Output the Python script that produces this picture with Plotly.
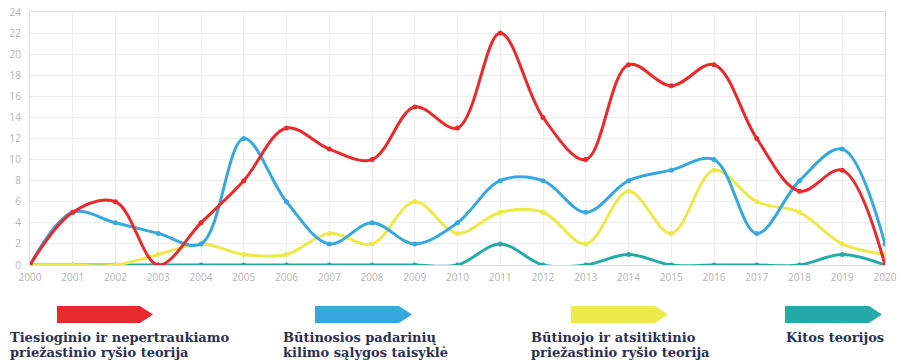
import plotly.graph_objects as go

years = list(range(2000, 2021))
tiesioginio = [0, 5, 6, 0, 4, 8, 13, 11, 10, 15, 13, 22, 14, 10, 19, 17, 19, 12, 7, 9, 0]
butinosios = [0, 5, 4, 3, 2, 12, 6, 2, 4, 2, 4, 8, 8, 5, 8, 9, 10, 3, 8, 11, 2]
butinojo = [0, 0, 0, 1, 2, 1, 1, 3, 2, 6, 3, 5, 5, 2, 7, 3, 9, 6, 5, 2, 1]
kitos = [0, 0, 0, 0, 0, 0, 0, 0, 0, 0, 0, 2, 0, 0, 1, 0, 0, 0, 0, 1, 0]

legend_labels = [
    ["Tiesioginio ir nepertraukiamo", "priežastinio ryšio teorija"],
    ["Būtinosios padarinių", "kilimo sąlygos taisyklė"],
    ["Būtinojo ir atsitiktinio", "priežastinio ryšio teorija"],
    ["Kitos teorijos"],
]
colors = ["#e9292b", "#36a8dd", "#ece94a", "#25a9a9"]
y_ticks = list(range(0, 25, 2))

W, H = 900, 360
ML, MR, MT, MB = 30, 15, 12, 95
PW, PH = W - ML - MR, H - MT - MB

fig = go.Figure()
series = [(kitos, 3), (butinojo, 2), (butinosios, 1), (tiesioginio, 0)]
for vals, idx in series:
    fig.add_trace(go.Scatter(
        x=years, y=vals, mode="lines+markers",
        line=dict(color=colors[idx], width=3, shape="spline", smoothing=1.0),
        marker=dict(color=colors[idx], size=5),
        name=" ".join(legend_labels[idx]),
        showlegend=False, hoverinfo="x+y",
    ))


def px_to_paper(x, y):
    return (x - ML) / PW, (H - MB - y) / PH


# Arrow-shaped legend swatches with captions below
legend_items = [
    (57, 153, 8),
    (315, 412, 281),
    (571, 668, 529),
    (785, 882, 784),
]
shapes = []
annotations = []
for i, (x0, x1, tx) in enumerate(legend_items):
    ytop, ybot = 306, 323
    tip = x1 - 13
    pts = [(x0, ytop), (tip, ytop), (x1, (ytop + ybot) / 2), (tip, ybot), (x0, ybot)]
    pp = [px_to_paper(a, b) for a, b in pts]
    path = "M " + " L ".join(f"{a:.5f},{b:.5f}" for a, b in pp) + " Z"
    shapes.append(dict(type="path", xref="paper", yref="paper", path=path,
                       fillcolor=colors[i], line=dict(width=0)))
    for j, line in enumerate(legend_labels[i]):
        ax, ay = px_to_paper(tx, 337 + 15 * j)
        annotations.append(dict(
            x=ax, y=ay, xref="paper", yref="paper", xanchor="left", yanchor="middle",
            text="<b>" + line + "</b>", showarrow=False, align="left",
            font=dict(family="DejaVu Serif", size=13, color="#2b3050"),
        ))

fig.update_layout(
    width=W, height=H,
    margin=dict(l=ML, r=MR, t=MT, b=MB),
    paper_bgcolor="white", plot_bgcolor="white",
    shapes=shapes, annotations=annotations,
    xaxis=dict(
        range=[2000, 2020], tickmode="array", tickvals=years,
        ticktext=[str(y) for y in years],
        showgrid=True, gridcolor="#eeeeee", gridwidth=1,
        zeroline=False, showline=True, linecolor="#dcdcdc", mirror=True,
        tickfont=dict(family="Open Sans", size=10, color="#b5b5b5"),
        ticks="", ticklabelstandoff=3, fixedrange=True, automargin=False,
    ),
    yaxis=dict(
        range=[0, 24], tickmode="array", tickvals=y_ticks,
        showgrid=True, gridcolor="#eeeeee", gridwidth=1,
        zeroline=False, showline=True, linecolor="#dcdcdc", mirror=True,
        tickfont=dict(family="Open Sans", size=10, color="#b5b5b5"),
        ticks="", ticklabelstandoff=6, fixedrange=True, automargin=False,
    ),
)

fig.write_html("out.html")
